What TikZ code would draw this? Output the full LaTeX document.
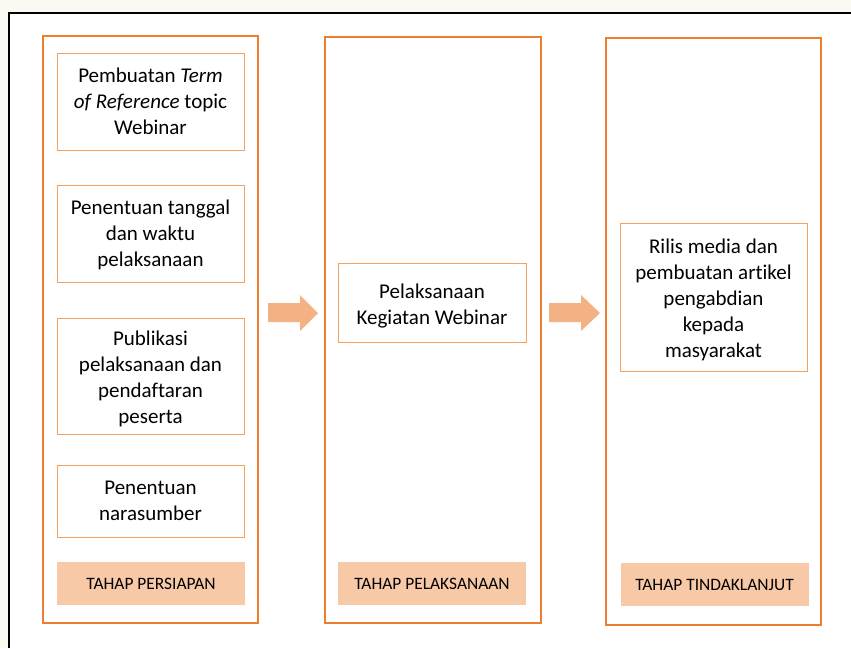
\documentclass[tikz,border=0pt]{standalone}
\usepackage{fontspec}
\setmainfont{Carlito}[Ligatures=NoCommon]
\definecolor{frameor}{HTML}{ED7D31}
\definecolor{inneror}{HTML}{F4A25F}
\definecolor{labelfill}{HTML}{F7C9A7}
\definecolor{arrowfill}{HTML}{F4B183}
\definecolor{paper}{HTML}{FAFAF2}
\begin{document}
\begin{tikzpicture}[x=1pt,y=-1pt,
  column/.style={draw=frameor,line width=2.5pt,fill=white,rectangle,inner sep=0pt,outer sep=0pt},
  stepbox/.style={draw=inneror,line width=1pt,fill=white,rectangle,inner sep=0pt,outer sep=0pt,
    minimum width=187pt},
  steptext/.style={inner sep=0pt,align=center,font=\fontsize{21}{26}\selectfont},
  phase/.style={fill=labelfill,draw=none,rectangle,inner sep=0pt,outer sep=0pt,
    minimum width=188pt,minimum height=43pt,font=\fontsize{17.4}{20}\selectfont},
  blockarrow/.style={fill=arrowfill,draw=none}]
\useasboundingbox (0,0) rectangle (851,648);
\fill[paper] (0,0) rectangle (851,648);
\fill[white] (9,13) rectangle (851,648);
\draw[black,line width=2pt] (9,648) -- (9,13) -- (851,13);
% columns
\node[column,minimum width=215pt,minimum height=587pt] (col1) at (150.5,329.5) {};
\node[column,minimum width=216pt,minimum height=586pt] (col2) at (433,330) {};
\node[column,minimum width=215pt,minimum height=587pt] (col3) at (713.5,331.5) {};
% column 1 steps
\node[stepbox,minimum height=97pt] (s1) at (150.5,101.5) {};
\node[steptext] (t1) at (s1.center) {Pembuatan \textit{Term}\\\textit{of Reference} topic\\Webinar};
\node[stepbox,minimum height=97pt] (s2) at (150.5,233.5) {};
\node[steptext] (t2) at ([yshift=-1pt]s2.center) {Penentuan tanggal\\dan waktu\\pelaksanaan};
\node[stepbox,minimum height=116pt] (s3) at (150.5,376) {};
\node[steptext] (t3) at ([yshift=-3pt]s3.center) {Publikasi\\pelaksanaan dan\\pendaftaran\\peserta};
\node[stepbox,minimum height=72pt] (s4) at (150.5,501) {};
\node[steptext] (t4) at (s4.center) {Penentuan\\narasumber};
\node[phase] (p1) at (151,583.5) {TAHAP PERSIAPAN};
% column 2
\node[stepbox,minimum width=188pt,minimum height=79pt] (s5) at (432,302.5) {};
\node[steptext] (t5) at ([yshift=-4pt]s5.center) {Pelaksanaan\\Kegiatan Webinar};
\node[phase] (p2) at (432,583.5) {TAHAP PELAKSANAAN};
% column 3
\node[stepbox,minimum height=148pt] (s6) at (713.5,297) {};
\node[steptext] (t6) at ([yshift=-3pt]s6.center) {Rilis media dan\\pembuatan artikel\\pengabdian\\kepada\\masyarakat};
\node[phase] (p3) at (714.5,584.5) {TAHAP TINDAKLANJUT};
% block arrows between columns
\fill[blockarrow] (268,303) -- (300,303) -- (300,295) -- (318,313) -- (300,331) -- (300,322) -- (268,322) -- cycle;
\fill[blockarrow] (549,303) -- (581,303) -- (581,295) -- (600,313) -- (581,331) -- (581,322) -- (549,322) -- cycle;
\end{tikzpicture}
\end{document}
